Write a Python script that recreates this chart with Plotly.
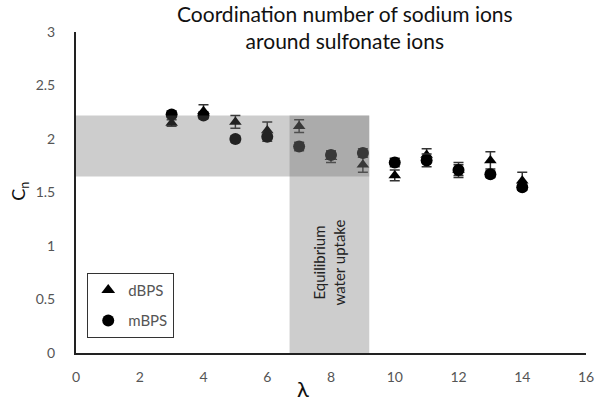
import plotly.graph_objects as go

lam = [3, 4, 5, 6, 7, 8, 9, 10, 11, 12, 13, 14]
dbps = [2.15, 2.26, 2.16, 2.08, 2.12, 1.83, 1.76, 1.66, 1.85, 1.71, 1.80, 1.61]
dbps_err = [0.03, 0.06, 0.06, 0.08, 0.06, 0.05, 0.07, 0.05, 0.06, 0.07, 0.08, 0.08]
mbps = [2.23, 2.22, 2.00, 2.02, 1.93, 1.85, 1.87, 1.78, 1.80, 1.71, 1.67, 1.55]
mbps_err = [0.03, 0.03, 0.03, 0.04, 0.04, 0.04, 0.04, 0.04, 0.06, 0.05, 0.03, 0.03]

band_y = [1.65, 2.22]
band_x = [6.7, 9.2]

font = "Lato, 'Open Sans', sans-serif"
fig = go.Figure()
fig.add_trace(go.Scatter(
    x=lam, y=dbps, mode="markers", name="dBPS", legendgroup="a",
    marker=dict(symbol="triangle-up", size=11, color="black"),
    error_y=dict(type="data", array=dbps_err, color="#333", thickness=1.5, width=5),
))
fig.add_trace(go.Scatter(
    x=lam, y=mbps, mode="markers", name="mBPS", legendgroup="b",
    marker=dict(symbol="circle", size=12, color="black"),
    error_y=dict(type="data", array=mbps_err, color="#333", thickness=1.5, width=5),
))

fig.add_shape(type="rect", x0=0, x1=band_x[1], y0=band_y[0], y1=band_y[1],
              xref="x", yref="y", fillcolor="#666666", opacity=0.33,
              line=dict(width=0), layer="above")
fig.add_shape(type="rect", x0=band_x[0], x1=band_x[1], y0=0, y1=band_y[1],
              xref="x", yref="y", fillcolor="#666666", opacity=0.33,
              line=dict(width=0), layer="above")

fig.add_annotation(x=(band_x[0] + band_x[1]) / 2, y=0.85, xref="x", yref="y",
                   text="Equilibrium<br>water uptake", textangle=-90, showarrow=False,
                   font=dict(family=font, size=15, color="#222"))

# title
fig.add_annotation(x=0.527, y=1.015, xref="paper", yref="paper", xanchor="center", yanchor="middle",
                   text="Coordination number of sodium ions<br>around sulfonate ions",
                   showarrow=False, font=dict(family=font, size=21, color="#111"))
# axis titles
fig.add_annotation(x=0.445, y=-0.112, xref="paper", yref="paper", xanchor="center", yanchor="middle",
                   text="λ", showarrow=False, font=dict(family=font, size=22, color="#111"))
fig.add_annotation(x=-0.11, y=0.505, xref="paper", yref="paper", xanchor="center", yanchor="middle",
                   text="C<sub>n</sub>", textangle=-90, showarrow=False,
                   font=dict(family=font, size=18, color="#111"))

fig.update_layout(
    width=611, height=410,
    margin=dict(l=76, r=25, t=32, b=57),
    paper_bgcolor="white", plot_bgcolor="white",
    font=dict(family=font),
    showlegend=True,
    legend=dict(x=0.022, y=0.25, xanchor="left", yanchor="top",
                bordercolor="#333", borderwidth=1, bgcolor="white",
                font=dict(family=font, size=15, color="#555"),
                itemsizing="constant", tracegroupgap=8, itemwidth=30),
    xaxis=dict(range=[0, 16], dtick=2, tick0=0, showgrid=False, zeroline=False,
               showline=True, linecolor="#222", linewidth=2, ticks="",
               ticklabelstandoff=10, automargin=False,
               tickfont=dict(family=font, size=14, color="#555")),
    yaxis=dict(range=[0, 3], dtick=0.5, tick0=0, showgrid=False, zeroline=False,
               showline=True, linecolor="#222", linewidth=2, ticks="",
               ticklabelstandoff=16, automargin=False,
               tickfont=dict(family=font, size=14, color="#555")),
)

fig.write_html("out.html")
